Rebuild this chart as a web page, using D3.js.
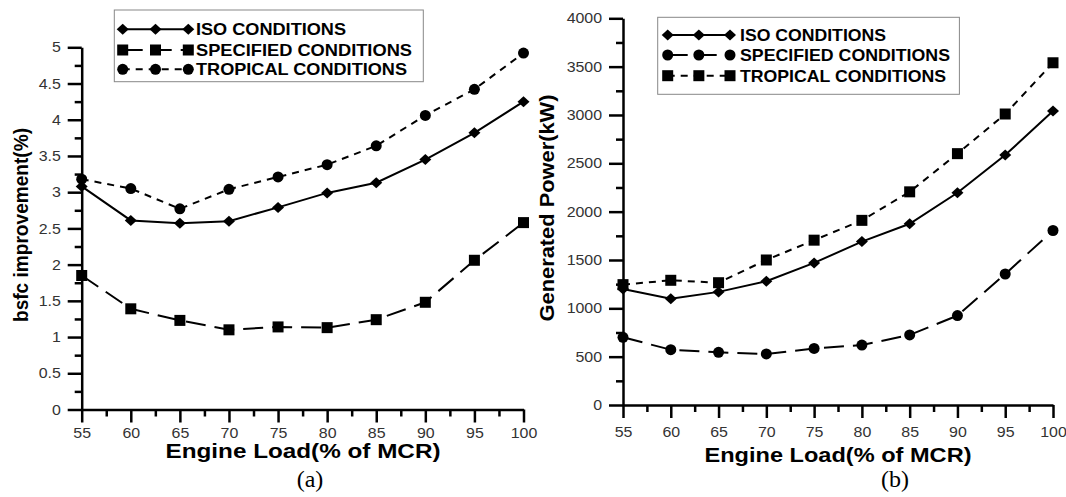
<!DOCTYPE html>
<html>
<head>
<meta charset="utf-8">
<script src="https://cdn.jsdelivr.net/npm/d3@7"></script>
<style>
  html, body { margin: 0; padding: 0; background: #fff; }
  svg { display: block; font-family: "Liberation Sans", Arial, sans-serif; }
</style>
</head>
<body>
<div class="chart"></div>
<script>
// engine load (% of MCR)
var loads = [55, 60, 65, 70, 75, 80, 85, 90, 95, 100];

// (a) bsfc improvement (%)
var bsfcIso = [3.08, 2.61, 2.57, 2.60, 2.79, 2.99, 3.13, 3.45, 3.82, 4.25];
var bsfcSpecified = [1.85, 1.39, 1.23, 1.10, 1.14, 1.13, 1.24, 1.48, 2.06, 2.58];
var bsfcTropical = [3.18, 3.05, 2.77, 3.04, 3.21, 3.38, 3.64, 4.06, 4.42, 4.92];

// (b) generated power (kW)
var powerIso = [1200, 1100, 1170, 1280, 1470, 1690, 1875, 2195, 2585, 3040];
var powerSpecified = [700, 572, 545, 528, 585, 620, 725, 925, 1355, 1805];
var powerTropical = [1245, 1290, 1265, 1500, 1705, 1910, 2205, 2600, 3010, 3540];

var xTicks = [55, 60, 65, 70, 75, 80, 85, 90, 95, 100];
var bsfcTicks = [0, 0.5, 1, 1.5, 2, 2.5, 3, 3.5, 4, 4.5, 5];
var powerTicks = [0, 500, 1000, 1500, 2000, 2500, 3000, 3500, 4000];

var legendNames = ["ISO CONDITIONS", "SPECIFIED CONDITIONS", "TROPICAL CONDITIONS"];

var width = 1066, height = 497;

var svg = d3.select(".chart")
	.append("svg")
	.attr("width", width)
	.attr("height", height);

// marker shapes
function marker(g, shape, x, y) {
	if (shape === "diamond") {
		g.append("path")
			.attr("d", "M" + (x - 6) + "," + y + "L" + x + "," + (y - 5.5) + "L" + (x + 6) + "," + y + "L" + x + "," + (y + 5.5) + "Z")
			.attr("fill", "#000");
	} else if (shape === "square") {
		g.append("rect")
			.attr("x", x - 5.5).attr("y", y - 5.5)
			.attr("width", 11).attr("height", 11)
			.attr("fill", "#000");
	} else {
		g.append("circle")
			.attr("cx", x).attr("cy", y).attr("r", 5.5)
			.attr("fill", "#000");
	}
}

var dashes = { solid: null, long: "20,9", short: "7,6" };

function drawPanel(p) {
	var g = svg.append("g");

	var xScale = d3.scaleLinear().domain([55, 100]).range([p.left, p.right]);
	var yScale = d3.scaleLinear().domain([0, p.yMax]).range([p.bottom, p.top]);

	// minor ticks
	var xMinor = d3.range(57.5, 100, 5);
	var yMinor = d3.range(p.yStep / 2, p.yMax, p.yStep);

	g.append("g")
		.attr("transform", "translate(0," + p.bottom + ")")
		.call(d3.axisBottom(xScale).tickValues(xMinor).tickSize(7).tickSizeOuter(0).tickFormat(""))
		.call(function(a) { a.select(".domain").remove(); })
		.selectAll("line").attr("stroke-width", 2.5);

	g.append("g")
		.attr("transform", "translate(" + p.left + ",0)")
		.call(d3.axisLeft(yScale).tickValues(yMinor).tickSize(7).tickSizeOuter(0).tickFormat(""))
		.call(function(a) { a.select(".domain").remove(); })
		.selectAll("line").attr("stroke-width", 2.5);

	// major axes
	var xAx = g.append("g")
		.attr("transform", "translate(0," + p.bottom + ")")
		.call(d3.axisBottom(xScale).tickValues(xTicks).tickSize(13).tickSizeOuter(0).tickPadding(p.xPad).tickFormat(d3.format("")));
	var yAx = g.append("g")
		.attr("transform", "translate(" + p.left + ",0)")
		.call(d3.axisLeft(yScale).tickValues(p.yTicks).tickSize(14).tickSizeOuter(0).tickPadding(5).tickFormat(d3.format("")));

	[xAx, yAx].forEach(function(a) {
		a.select(".domain").attr("stroke-width", 2.5);
		a.selectAll("line").attr("stroke-width", 2.5);
		a.selectAll("text")
			.attr("font-size", 14.5)
			.attr("fill", "#333")
			.attr("font-family", "Liberation Sans, Arial, sans-serif")
			.attr("transform", "scale(1.1,1)");
	});

	// series
	var line = d3.line()
		.x(function(d) { return xScale(d[0]); })
		.y(function(d) { return yScale(d[1]); });

	p.series.forEach(function(s) {
		var pts = loads.map(function(l, i) { return [l, s.values[i]]; });
		g.append("path")
			.datum(pts)
			.attr("d", line)
			.attr("fill", "none")
			.attr("stroke", "#000")
			.attr("stroke-width", 2)
			.attr("stroke-dasharray", dashes[s.dash]);
		pts.forEach(function(d) { marker(g, s.shape, xScale(d[0]), yScale(d[1])); });
	});

	// legend
	var L = p.legend;
	g.append("rect")
		.attr("x", L.x).attr("y", L.y)
		.attr("width", L.w).attr("height", L.h)
		.attr("fill", "#fff")
		.attr("stroke", "#888")
		.attr("stroke-width", 1);
	p.series.forEach(function(s, i) {
		var cy = L.rows[i];
		g.append("line")
			.attr("x1", L.s0).attr("x2", L.s1)
			.attr("y1", cy).attr("y2", cy)
			.attr("stroke", "#000")
			.attr("stroke-width", 2)
			.attr("stroke-dasharray", dashes[s.dash]);
		[L.s0, (L.s0 + L.s1) / 2, L.s1].forEach(function(mx) { marker(g, s.shape, mx, cy); });
		g.append("text")
			.attr("x", L.tx).attr("y", cy + 6)
			.attr("font-size", 16.5)
			.attr("font-weight", "bold")
			.attr("textLength", L.lens[i])
			.attr("lengthAdjust", "spacingAndGlyphs")
			.text(legendNames[i]);
	});

	// axis titles
	g.append("text")
		.attr("x", p.xTitle[0]).attr("y", p.xTitle[1])
		.attr("text-anchor", "middle")
		.attr("font-size", 19.5)
		.attr("font-weight", "bold")
		.attr("textLength", p.xTitle[2])
		.attr("lengthAdjust", "spacingAndGlyphs")
		.text("Engine Load(% of MCR)");

	g.append("text")
		.attr("transform", "translate(" + p.yTitle[0] + "," + p.yTitle[1] + ") rotate(-90)")
		.attr("text-anchor", "middle")
		.attr("dy", "0.35em")
		.attr("font-size", 21)
		.attr("font-weight", "bold")
		.attr("textLength", p.yTitle[2])
		.attr("lengthAdjust", "spacingAndGlyphs")
		.text(p.yLabel);

	g.append("text")
		.attr("x", p.tag[0]).attr("y", p.tag[1])
		.attr("text-anchor", "middle")
		.attr("font-family", "Liberation Serif, Times New Roman, serif")
		.attr("font-size", 24)
		.text(p.tagText);
}

drawPanel({
	left: 81.7, right: 523.5, top: 47.3, bottom: 409.5,
	yMax: 5, yStep: 0.5, yTicks: bsfcTicks, xPad: 5,
	yLabel: "bsfc improvement(%)",
	series: [
		{ values: bsfcIso, shape: "diamond", dash: "solid" },
		{ values: bsfcSpecified, shape: "square", dash: "long" },
		{ values: bsfcTropical, shape: "circle", dash: "short" }
	],
	legend: { x: 114.3, y: 10, w: 309, h: 71.7, rows: [29.3, 50, 69.3], s0: 122.7, s1: 188.3, tx: 196, lens: [150, 216, 211] },
	xTitle: [303, 458, 275],
	yTitle: [21, 225, 194],
	tag: [310, 487], tagText: "(a)"
});

drawPanel({
	left: 623, right: 1053, top: 18.3, bottom: 405,
	yMax: 4000, yStep: 500, yTicks: powerTicks, xPad: 9,
	yLabel: "Generated Power(kW)",
	series: [
		{ values: powerIso, shape: "diamond", dash: "solid" },
		{ values: powerSpecified, shape: "circle", dash: "long" },
		{ values: powerTropical, shape: "square", dash: "short" }
	],
	legend: { x: 657.7, y: 17.3, w: 301.7, h: 77, rows: [35, 55, 75.7], s0: 667.7, s1: 730, tx: 740, lens: [146, 210, 206] },
	xTitle: [838, 462, 267],
	yTitle: [547, 208, 227],
	tag: [895, 487], tagText: "(b)"
});
</script>
</body>
</html>
